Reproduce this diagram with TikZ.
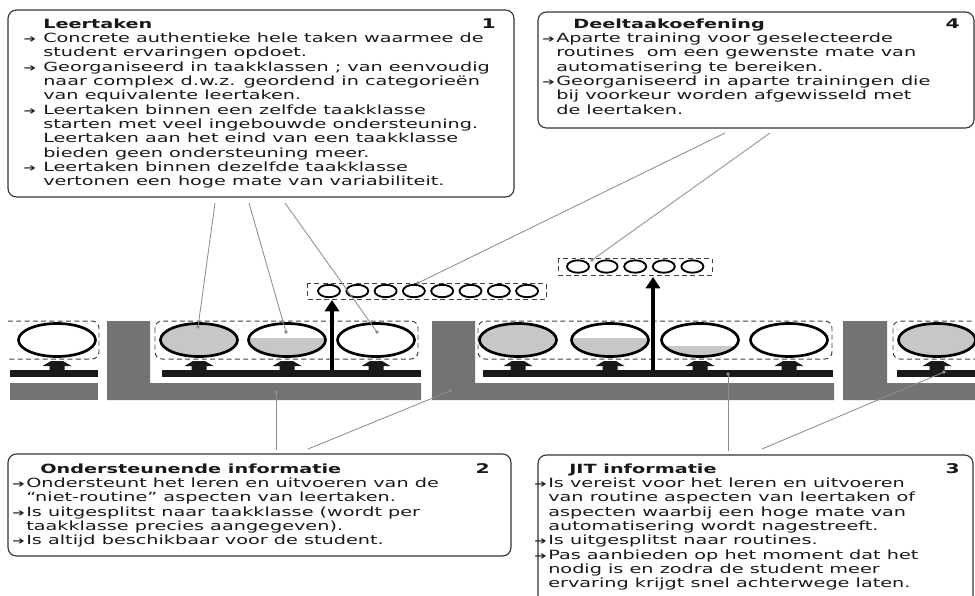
\documentclass[tikz,border=0pt]{standalone}
\usepackage{fontspec}
\newfontfamily\boxfont[FakeStretch=1.52]{DejaVu Sans}
\usetikzlibrary{arrows.meta}

\definecolor{balkgrijs}{gray}{0.45}
\definecolor{vulgrijs}{gray}{0.78}
\definecolor{lijngrijs}{gray}{0.55}
\newcommand\pijl[1][1pt]{\leavevmode\llap{{\scriptsize ➔}\hspace{#1}}}

\begin{document}
\begin{tikzpicture}[x=0.025cm,y=-0.025cm,
  kader/.style={draw=black!80,line width=0.8pt,rounded corners=6pt},
  kop/.style={anchor=base west,inner sep=0pt,text=black!90,font=\boxfont\fontsize{9}{10.2}\selectfont\bfseries},
  nummer/.style={anchor=base east,inner sep=0pt,text=black!90,font=\boxfont\fontsize{9.5}{10.2}\selectfont\bfseries},
  tekst/.style={anchor=base west,inner sep=0pt,text=black!90,font=\boxfont\fontsize{9}{10.2}\selectfont},
  groep/.style={draw=black!75,line width=0.7pt,dash pattern=on 3.5pt off 2.4pt,rounded corners=5pt},
  lijn/.style={draw=lijngrijs,line width=0.6pt},
  stip/.style={fill=lijngrijs}]
  \useasboundingbox (0,0) rectangle (975,595);
  \clip (0,0) rectangle (975,595);

  % kaders
  \draw[kader] (8,10) rectangle (514,197);
  \draw[kader] (538,12) rectangle (974,128);
  \draw[kader] (8,454) rectangle (511,556);
  \draw[kader] (538,455) rectangle (973,620);

  % 1 leertaken
  \node[kop] (kop1) at (43,28) {Leertaken};
  \node[nummer] (nr1) at (496,28) {1};
  \node[tekst] (tekst1) at (43,42.4) {\parbox[t]{14cm}{\raggedright
    \pijl[5pt]Concrete authentieke hele taken waarmee de\\
    student ervaringen opdoet.\\
    \pijl[5pt]Georganiseerd in taakklassen ; van eenvoudig\\
    naar complex d.w.z. geordend in categorieën\\
    van equivalente leertaken.\\
    \pijl[5pt]Leertaken binnen een zelfde taakklasse\\
    starten met veel ingebouwde ondersteuning.\\
    Leertaken aan het eind van een taakklasse\\
    bieden geen ondersteuning meer.\\
    \pijl[5pt]Leertaken binnen dezelfde taakklasse\\
    vertonen een hoge mate van variabiliteit.}};

  % 4 deeltaakoefening
  \node[kop] (kop4) at (573,28) {Deeltaakoefening};
  \node[nummer] (nr4) at (960,28) {4};
  \node[tekst] (tekst4) at (556,42.4) {\parbox[t]{12cm}{\raggedright
    \pijl Aparte training voor geselecteerde\\
    routines\ \ om een gewenste mate van\\
    automatisering te bereiken.\\
    \pijl Georganiseerd in aparte trainingen die\\
    bij voorkeur worden afgewisseld met\\
    de leertaken.}};

  % 2 ondersteunende informatie
  \node[kop] (kop2) at (40,473) {Ondersteunende informatie};
  \node[nummer] (nr2) at (490,473) {2};
  \node[tekst] (tekst2) at (26,487.4) {\parbox[t]{14cm}{\raggedright
    \pijl Ondersteunt het leren en uitvoeren van de\\
    “niet-routine” aspecten van leertaken.\\
    \pijl Is uitgesplitst naar taakklasse (wordt per\\
    taakklasse precies aangegeven).\\
    \pijl Is altijd beschikbaar voor de student.}};

  % 3 JIT informatie
  \node[kop] (kop3) at (569,473) {JIT informatie};
  \node[nummer] (nr3) at (960,473) {3};
  \node[tekst] (tekst3) at (548,487.4) {\parbox[t]{12cm}{\raggedright
    \pijl Is vereist voor het leren en uitvoeren\\
    van routine aspecten van leertaken of\\
    aspecten waarbij een hoge mate van\\
    automatisering wordt nagestreeft.\\
    \pijl Is uitgesplitst naar routines.\\
    \pijl Pas aanbieden op het moment dat het\\
    nodig is en zodra de student meer\\
    ervaring krijgt snel achterwege laten.}};

  % ondersteunende informatie (grijs)
  \fill[balkgrijs] (10,383) rectangle (98,400);
  \fill[balkgrijs] (107,321) rectangle (150,400) (107,383) rectangle (421,400);
  \fill[balkgrijs] (432,321) rectangle (475,400) (432,383) rectangle (834,400);
  \fill[balkgrijs] (843,321) rectangle (887,400) (843,383) rectangle (975,400);

  % JIT informatie (zwart)
  \fill[black!90] (10,370) rectangle (98,377);
  \fill[black!90] (162,370) rectangle (421,377);
  \fill[black!90] (483,370) rectangle (833,377);
  \fill[black!90] (897,370) rectangle (975,377);

  % taakklassen
  \draw[groep] (8,321) -- (99,321) -- (99,359) -- (8,359);
  \draw[groep] (155,321) rectangle (418,359);
  \draw[groep] (478,321) rectangle (832,359);
  \draw[groep] (980,321) -- (893,321) -- (893,359) -- (980,359);

  % leertaken met afnemende ondersteuning
  \foreach \cx/\lvl in {57/360,199/322,287/338,376/360,518/322,610/338,700/346,789/360,937/322}{
    \begin{scope}
      \clip (\cx,340) ellipse [x radius=38.5,y radius=16.5];
      \fill[vulgrijs] (\cx-40,\lvl) rectangle (\cx+40,358);
    \end{scope}
    \draw[line width=1.9pt] (\cx,340) ellipse [x radius=38.5,y radius=16.5];
    \fill[black!90] (\cx-14.5,366) -- (\cx-6,361) -- (\cx+6,361) -- (\cx+14.5,366)
      -- (\cx+7.5,366) -- (\cx+7.5,370) -- (\cx-7.5,370) -- (\cx-7.5,366) -- cycle;
  }

  % deeltaakoefening
  \draw[groep,rounded corners=0pt] (307,283) rectangle (546,299);
  \foreach \i in {0,...,7}
    \draw[line width=1.3pt] (329+28.3*\i,291) ellipse [x radius=11,y radius=6.2];
  \draw[groep,rounded corners=0pt] (558,258) rectangle (712,275);
  \foreach \i in {0,...,4}
    \draw[line width=1.3pt] (578+28.6*\i,266.5) ellipse [x radius=11,y radius=6.2];

  \coordinate (voet1) at (332,370);
  \coordinate (rij1) at (332,300);
  \coordinate (voet2) at (653,370);
  \coordinate (rij2) at (653,277);
  \draw[line width=2.5pt,-{Triangle[width=10pt,length=8pt]}] (voet1) -- (rij1);
  \draw[line width=2.5pt,-{Triangle[width=10pt,length=8pt]}] (voet2) -- (rij2);

  % verwijslijnen
  \coordinate (b1a) at (215,203);  \coordinate (e1a) at (198,327);
  \coordinate (b1b) at (249,203);  \coordinate (e1b) at (286,332);
  \coordinate (b1c) at (285,203);  \coordinate (e1c) at (377,332);
  \coordinate (b4a) at (725,133);  \coordinate (e4a) at (418,283);
  \coordinate (b4b) at (770,133);  \coordinate (e4b) at (592,260);
  \coordinate (b2a) at (276,450);  \coordinate (e2a) at (276,392);
  \coordinate (b2b) at (308,449);  \coordinate (e2b) at (450,391);
  \coordinate (b3a) at (728,451);  \coordinate (e3a) at (728,374);
  \coordinate (b3b) at (762,449);  \coordinate (e3b) at (944,372);
  \foreach \a/\b in {b1a/e1a,b1b/e1b,b1c/e1c,b4a/e4a,b4b/e4b,b2a/e2a,b2b/e2b,b3a/e3a,b3b/e3b}{
    \draw[lijn] (\a) -- (\b);
    \fill[stip] (\b) circle [radius=1.8];
  }
\end{tikzpicture}
\end{document}
